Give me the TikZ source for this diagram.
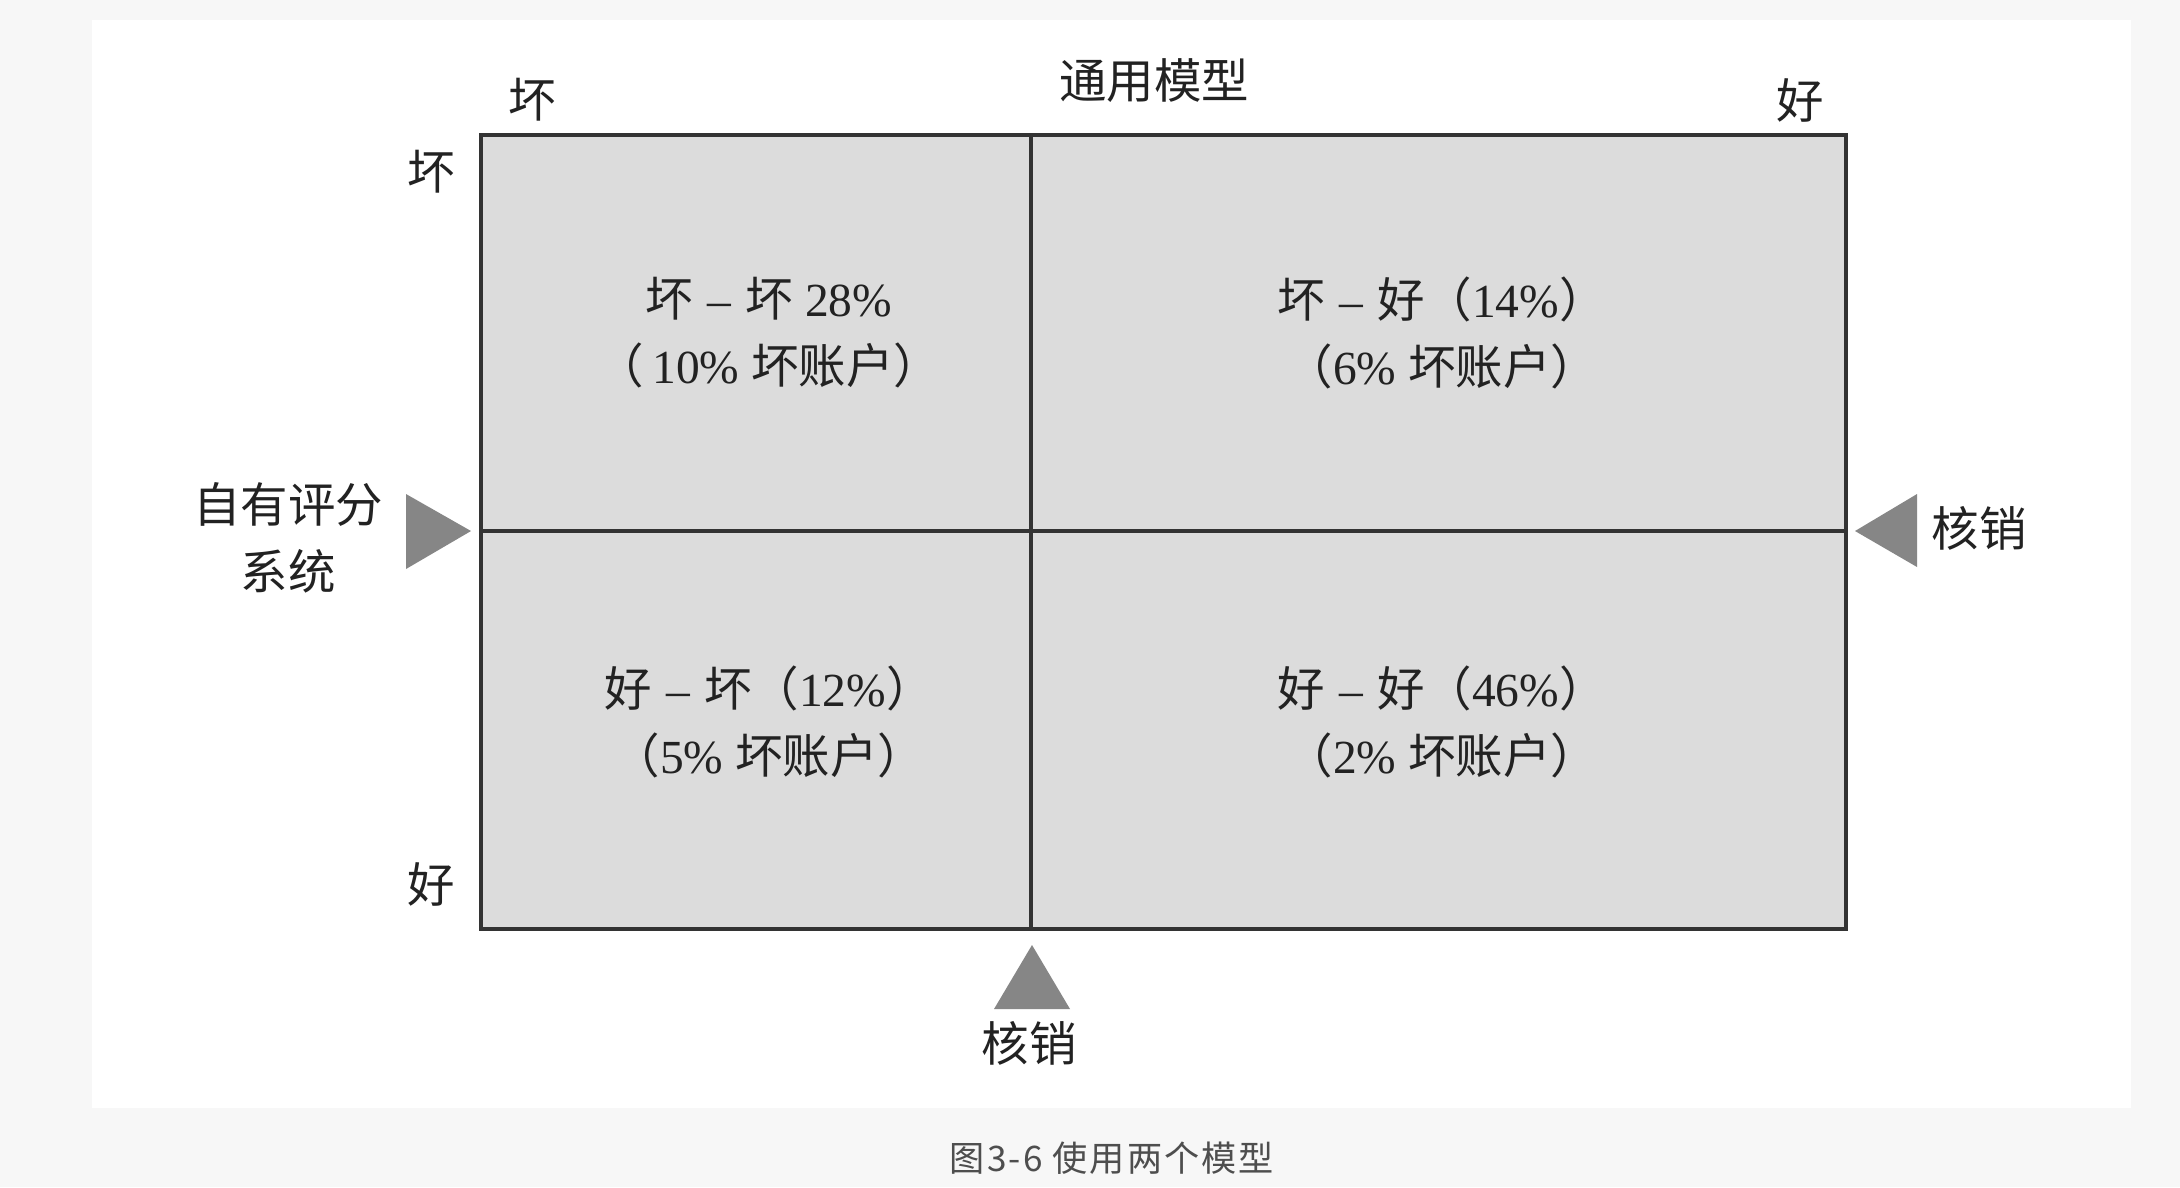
\documentclass[tikz,border=0pt]{standalone}
\usepackage{fontspec}
\setmainfont{Liberation Serif}
\newfontfamily\cjk{Noto Sans CJK SC}
\newfontfamily\capfont[LetterSpace=6]{Noto Sans CJK SC}
\usetikzlibrary{positioning}

\definecolor{pagebg}{HTML}{F7F7F7}
\definecolor{cellfill}{HTML}{DCDCDC}
\definecolor{gridline}{HTML}{333333}
\definecolor{markgray}{HTML}{868686}
\definecolor{txt}{HTML}{222222}

% Chinese words in the CJK face, the rest in the serif
\newcommand{\zh}[1]{{\cjk #1}}
\newcommand{\sepdash}{\hspace{0.3em}–\hspace{0.3em}}

\begin{document}
\begin{tikzpicture}[
    x=0.01cm, y=-0.01cm,
    lbl/.style={font=\fontsize{13.5}{19}\selectfont\cjk, text=txt,
                inner sep=0pt, align=center},
    celltext/.style={font=\fontsize{13.5}{19}\selectfont, text=txt,
                inner sep=0pt, align=center},
    caption/.style={font=\fontsize{10}{12}\selectfont\capfont, text=txt!80},
    gridl/.style={draw=gridline, line width=0.9pt},
    marker/.style={fill=markgray, draw=none}
]

%% page and panel
\fill[pagebg] (0,0) rectangle (2180,1187);
\fill[white] (92,20) rectangle (2131,1108);
\useasboundingbox (0,0) rectangle (2180,1187);

%% grid
\coordinate (nw) at (481,135);
\coordinate (se) at (1846,929);
\coordinate (midtop) at (1031,135);
\coordinate (midbot) at (1031,929);
\coordinate (midleft) at (481,531);
\coordinate (midright) at (1846,531);

\filldraw[fill=cellfill, gridl] (nw) rectangle (se);
\draw[gridl] (midtop) -- (midbot);
\draw[gridl] (midleft) -- (midright);

%% cells
\node[celltext] (bb) at (769,333) {%
    \zh{坏}\sepdash\zh{坏} 28\%\\
    \zh{（}\,10\% \zh{坏账户）}};
\node[celltext] (bg) at (1442,333) {%
    \zh{坏}\sepdash\zh{好（}14\%\zh{）}\\
    \zh{（}6\% \zh{坏账户）}};
\node[celltext] (gb) at (769,722) {%
    \zh{好}\sepdash\zh{坏（}12\%\zh{）}\\
    \zh{（}5\% \zh{坏账户）}};
\node[celltext] (gg) at (1442,722) {%
    \zh{好}\sepdash\zh{好（}46\%\zh{）}\\
    \zh{（}2\% \zh{坏账户）}};

%% axis labels
\node[lbl] (general) at (1154,81) {通用模型};
\node[lbl] (topbad) at (532,100) {坏};
\node[lbl] (topgood) at (1800,100) {好};
\node[lbl] (leftbad) at (431,172) {坏};
\node[lbl] (leftgood) at (431,884) {好};
\node[lbl] (own) at (288,538) {自有评分\\系统};

%% cut-off markers
\fill[marker] (406,494) -- (471,531) -- (406,569) -- cycle;
\fill[marker] (1917,494) -- (1855,531) -- (1917,567) -- cycle;
\fill[marker] (994,1009) -- (1032,945) -- (1070,1009) -- cycle;

\node[lbl] (cutright) at (1979,528) {核销};
\node[lbl] (cutbot) at (1029,1043) {核销};

%% caption
\node[caption] (cap) at (1112,1158) {图3-6 使用两个模型};

\end{tikzpicture}
\end{document}
